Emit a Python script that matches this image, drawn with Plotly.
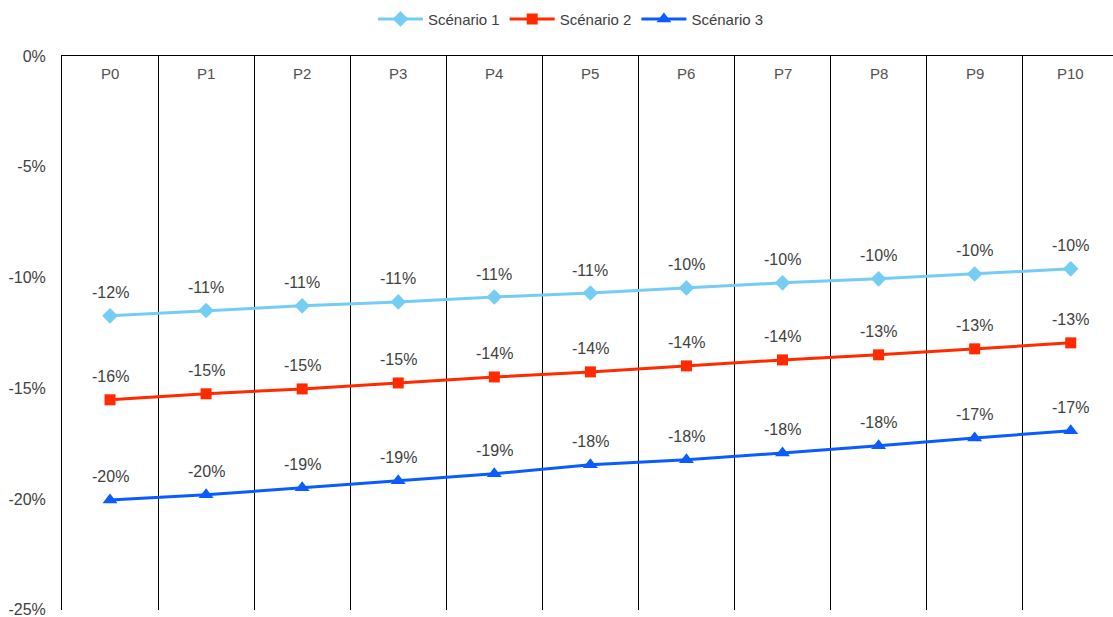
import plotly.graph_objects as go

categories = ["P0", "P1", "P2", "P3", "P4", "P5", "P6", "P7", "P8", "P9", "P10"]
scenario_1 = [-0.1173, -0.1149, -0.1128, -0.1110, -0.1088, -0.1070, -0.1047, -0.1024, -0.1006, -0.0984, -0.0961]
scenario_2 = [-0.1552, -0.1525, -0.1503, -0.1476, -0.1449, -0.1426, -0.1399, -0.1372, -0.1349, -0.1322, -0.1295]
scenario_3 = [-0.2004, -0.1981, -0.1949, -0.1918, -0.1886, -0.1845, -0.1823, -0.1792, -0.1760, -0.1724, -0.1692]
y_ticks = [0, -0.05, -0.10, -0.15, -0.20, -0.25]
y_tick_labels = ["0%", "-5%", "-10%", "-15%", "-20%", "-25%"]

series = [
    ("Scénario 1", scenario_1, "#75CDF5", "diamond", 12),
    ("Scénario 2", scenario_2, "#FF2A00", "square", 11),
    ("Scénario 3", scenario_3, "#0A5CFF", "triangle-up", 13),
]

font = "Liberation Sans, Arial, sans-serif"
fig = go.Figure()
for name, vals, color, sym, size in series:
    fig.add_trace(go.Scatter(
        x=categories, y=vals, name=name, mode="lines+markers",
        line=dict(color=color, width=3),
        marker=dict(symbol=sym, size=size, color=color),
        cliponaxis=False,
    ))
    for c, v in zip(categories, vals):
        fig.add_annotation(x=c, y=v, xref="x", yref="y", text=f"{round(v * 100):d}%",
                           showarrow=False, yshift=23,
                           font=dict(family=font, size=16, color="#404040"))

for c in categories:
    fig.add_annotation(x=c, y=0, xref="x", yref="y", text=c, showarrow=False,
                       yshift=-17, font=dict(family=font, size=15, color="#505050"))

fig.update_layout(
    width=1113, height=617,
    margin=dict(l=62, r=0, t=56, b=7),
    paper_bgcolor="white", plot_bgcolor="white",
    font=dict(family=font, size=15, color="#404040"),
    showlegend=True,
    legend=dict(orientation="h", x=0.513, xref="container", xanchor="center",
                y=0.969, yref="container", yanchor="middle",
                font=dict(family=font, size=15, color="#404040"), itemwidth=45),
    xaxis=dict(type="category", range=[-0.5, 10.44], showticklabels=False,
               tickson="boundaries", showgrid=True, gridcolor="black", gridwidth=1,
               ticks="", showline=True, linecolor="black", linewidth=1, side="top",
               zeroline=False),
    yaxis=dict(range=[-0.2501, 0], tickvals=y_ticks, ticktext=y_tick_labels, showgrid=False,
               zeroline=False, showline=True, linecolor="black", linewidth=1,
               ticks="", tickfont=dict(family=font, size=16, color="#404040"),
               ticklabelstandoff=12, ticklabeloverflow="allow"),
)

fig.write_html("out.html")
